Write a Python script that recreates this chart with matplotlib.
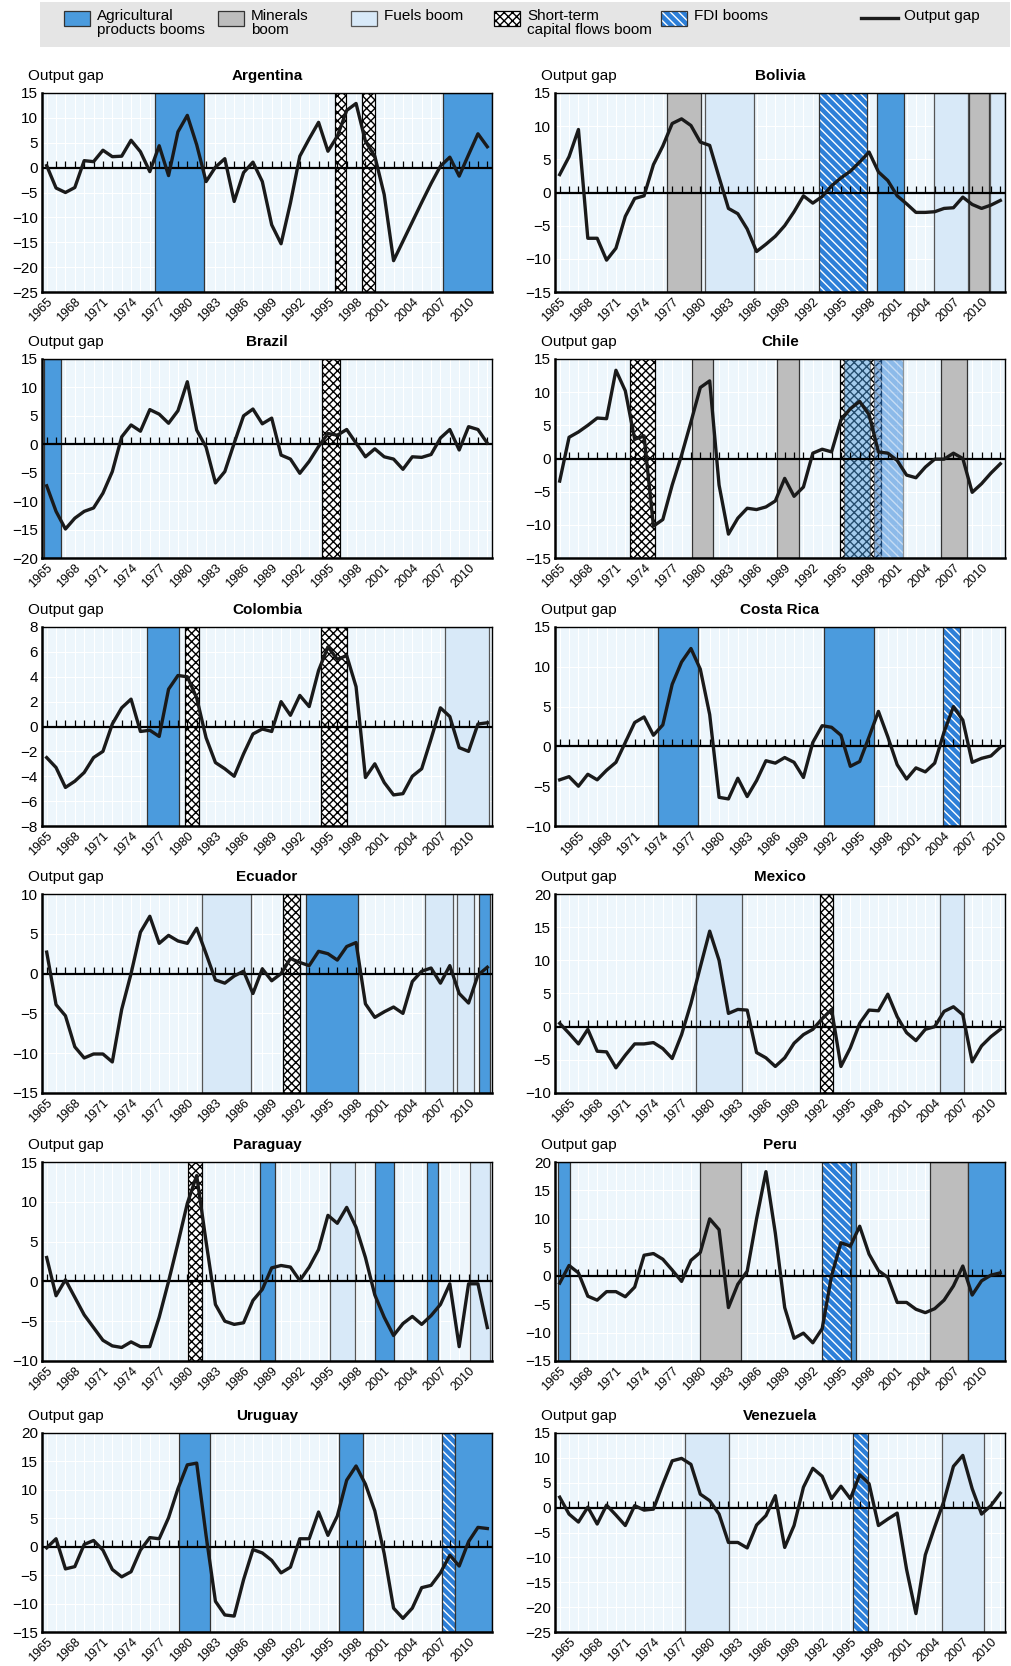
import matplotlib
matplotlib.use("Agg")
import matplotlib.pyplot as plt
import numpy as np
from matplotlib import font_manager
from matplotlib.patches import Rectangle

# fonte condensada, se estiver instalada
_names = {f.name for f in font_manager.fontManager.ttflist}
FONT = "Liberation Sans Narrow" if "Liberation Sans Narrow" in _names else "Liberation Sans"
plt.rcParams["font.family"] = [FONT, "DejaVu Sans"]
plt.rcParams["hatch.linewidth"] = 1.0

# ---------------- dados (hiato do produto, %) ----------------
countries = ["Argentina", "Bolivia", "Brazil", "Chile", "Colombia", "Costa Rica",
             "Ecuador", "Mexico", "Paraguay", "Peru", "Uruguay", "Venezuela"]

first_year = {"Costa Rica": 1963, "Mexico": 1964, "Venezuela": 1964}  # demais: 1965

argentina = [0.4, -4.1, -5.0, -4.0, 1.4, 1.2, 3.5, 2.2, 2.3, 5.5, 3.2, -0.8, 4.4, -1.6, 7.2, 10.5,
             4.6, -2.8, 0.1, 1.8, -6.8, -1.0, 1.1, -2.8, -11.5, -15.3, -7.1, 2.3, 5.8, 9.1, 3.3, 6.3,
             11.5, 12.9, 5.3, 2.3, -5.4, -18.7, -14.8, -10.9, -7.0, -3.2, 0.3, 2.1, -1.7, 2.6, 6.8, 4.2]
bolivia = [2.7, 5.4, 9.5, -6.9, -6.9, -10.2, -8.4, -3.6, -0.9, -0.5, 4.2, 7.0, 10.4, 11.1, 10.1, 7.6,
           7.1, 2.3, -2.4, -3.2, -5.5, -8.9, -7.8, -6.6, -5.0, -2.9, -0.5, -1.6, -0.6, 1.0, 2.2, 3.2,
           4.6, 6.1, 3.1, 1.8, -0.5, -1.7, -3.0, -3.0, -2.9, -2.4, -2.3, -0.7, -1.8, -2.4, -1.9, -1.2]
brazil = [-7.3, -11.8, -14.9, -13.0, -11.8, -11.2, -8.6, -4.8, 1.3, 3.4, 2.3, 6.1, 5.3, 3.7, 5.9, 11.0,
          2.5, -0.5, -6.8, -4.8, 0.2, 5.0, 6.2, 3.6, 4.6, -1.9, -2.6, -5.1, -3.0, -0.4, 1.9, 1.6,
          2.6, 0.2, -2.2, -0.8, -2.2, -2.6, -4.4, -2.2, -2.3, -1.8, 1.1, 2.6, -1.0, 3.1, 2.6, 0.2]
chile = [-3.4, 3.2, 4.0, 5.0, 6.1, 6.0, 13.3, 10.2, 2.9, 3.4, -10.2, -9.2, -4.0, 0.5, 5.5, 10.7,
         11.7, -4.0, -11.4, -9.0, -7.5, -7.7, -7.3, -6.4, -3.0, -5.7, -4.3, 0.8, 1.4, 1.0, 5.8, 7.5,
         8.6, 6.6, 1.0, 0.8, -0.3, -2.5, -2.9, -1.3, -0.1, -0.1, 0.8, 0.0, -5.1, -3.8, -2.2, -0.8]
colombia = [-2.5, -3.3, -4.9, -4.4, -3.7, -2.5, -2.0, 0.2, 1.5, 2.2, -0.4, -0.3, -0.8, 3.0, 4.1, 4.0,
            2.3, -0.9, -2.9, -3.4, -4.0, -2.2, -0.6, -0.2, -0.4, 2.0, 0.9, 2.5, 1.6, 4.5, 6.4, 5.4,
            5.7, 3.2, -4.1, -3.0, -4.5, -5.5, -5.4, -4.0, -3.4, -1.0, 1.5, 0.8, -1.7, -2.0, 0.2, 0.3]
costa_rica = [-4.2, -3.8, -5.0, -3.5, -4.2, -3.0, -2.0, 0.5, 3.0, 3.7, 1.4, 2.7, 7.8, 10.6, 12.3, 9.7,
              4.0, -6.4, -6.6, -4.0, -6.3, -4.3, -1.8, -2.1, -1.4, -2.0, -3.9, 0.5, 2.6, 2.4, 1.4, -2.5,
              -1.9, 1.2, 4.4, 1.2, -2.3, -4.1, -2.7, -3.2, -2.1, 1.8, 5.0, 3.3, -2.0, -1.5, -1.2, -0.1]
ecuador = [2.7, -3.9, -5.3, -9.2, -10.6, -10.1, -10.1, -11.1, -4.5, 0.0, 5.2, 7.2, 3.8, 4.8, 4.1, 3.8,
           5.7, 2.5, -0.8, -1.2, -0.3, 0.3, -2.5, 0.6, -0.9, 0.0, 1.9, 1.4, 1.0, 2.8, 2.5, 1.7,
           3.4, 3.9, -3.8, -5.5, -4.8, -4.2, -5.0, -1.0, 0.3, 0.7, -1.2, 1.0, -2.5, -3.7, -0.2, 0.8]
mexico = [0.5, -1.0, -2.6, -0.4, -3.7, -3.8, -6.2, -4.3, -2.6, -2.6, -2.4, -3.3, -4.8, -1.2, 3.5, 9.0,
          14.4, 10.0, 2.0, 2.6, 2.5, -3.9, -4.7, -6.0, -4.7, -2.5, -1.2, -0.4, 1.2, 2.6, -6.0, -3.2,
          0.5, 2.5, 2.4, 4.9, 1.5, -0.9, -2.1, -0.4, 0.0, 2.3, 3.0, 1.8, -5.3, -2.9, -1.5, -0.4]
paraguay = [3.0, -1.8, 0.2, -2.0, -4.2, -5.8, -7.4, -8.1, -8.3, -7.6, -8.2, -8.2, -4.5, 0.0, 4.8, 9.8,
            13.3, 5.0, -2.9, -5.0, -5.4, -5.2, -2.4, -1.0, 1.7, 2.0, 1.8, 0.1, 1.8, 4.0, 8.3, 7.3,
            9.3, 6.8, 3.0, -1.7, -4.5, -6.8, -5.3, -4.4, -5.4, -4.3, -2.9, -0.3, -8.2, -0.3, -0.3, -5.8]
peru = [-1.3, 1.8, 0.5, -3.6, -4.3, -2.8, -2.8, -3.7, -2.0, 3.6, 3.9, 2.9, 1.0, -1.0, 2.7, 4.1,
        10.0, 8.1, -5.6, -1.5, 0.8, 10.0, 18.3, 7.5, -5.6, -11.0, -10.1, -11.8, -9.3, 0.0, 5.8, 5.2,
        8.7, 3.8, 0.9, -0.3, -4.7, -4.7, -5.9, -6.5, -5.8, -4.3, -1.8, 1.7, -3.4, -0.9, 0.1, 0.5]
uruguay = [-0.2, 1.4, -3.9, -3.5, 0.4, 1.1, -0.6, -4.0, -5.3, -4.4, -0.6, 1.6, 1.4, 5.1, 10.2, 14.4,
           14.7, 2.0, -9.6, -12.0, -12.2, -5.8, -0.5, -1.1, -2.4, -4.6, -3.6, 1.4, 1.4, 6.1, 2.0, 5.4,
           11.7, 14.2, 11.0, 6.3, -1.2, -10.8, -12.6, -10.8, -7.2, -6.8, -4.6, -1.5, -3.4, 0.9, 3.4, 3.2]
venezuela = [2.1, -1.3, -2.9, 0.1, -3.3, 0.5, -1.5, -3.6, 0.4, -0.5, -0.3, 4.7, 9.4, 9.9, 8.7, 2.7,
             1.4, -1.3, -7.0, -7.0, -8.1, -3.5, -1.6, 2.4, -8.0, -3.6, 4.1, 7.9, 6.3, 1.8, 4.3, 1.8,
             6.6, 4.8, -3.6, -2.3, -1.1, -12.4, -21.3, -9.5, -3.9, 1.4, 8.3, 10.5, 3.8, -1.3, 0.4, 2.9]

values = {"Argentina": argentina, "Bolivia": bolivia, "Brazil": brazil, "Chile": chile,
          "Colombia": colombia, "Costa Rica": costa_rica, "Ecuador": ecuador, "Mexico": mexico,
          "Paraguay": paraguay, "Peru": peru, "Uruguay": uruguay, "Venezuela": venezuela}

# limites do eixo y: (min, max, passo)
y_range = {"Argentina": (-25, 15, 5), "Bolivia": (-15, 15, 5), "Brazil": (-20, 15, 5),
           "Chile": (-15, 15, 5), "Colombia": (-8, 8, 2), "Costa Rica": (-10, 15, 5),
           "Ecuador": (-15, 10, 5), "Mexico": (-10, 20, 5), "Paraguay": (-10, 15, 5),
           "Peru": (-15, 20, 5), "Uruguay": (-15, 20, 5), "Venezuela": (-25, 15, 5)}

# períodos de boom: (tipo, início, fim) em anos
booms = {
    "Argentina": [("agri", 1976.5, 1981.8), ("st", 1995.7, 1996.9), ("st", 1998.6, 2000.0),
                  ("agri", 2007.3, 2012.5)],
    "Bolivia": [("min", 1976.4, 1980.1), ("fuel", 1980.5, 1985.7), ("fdi", 1992.7, 1997.8),
                ("agri", 1998.8, 2001.7), ("fuel", 2004.9, 2008.6), ("min", 2008.7, 2010.8),
                ("fuel", 2010.9, 2012.5)],
    "Brazil": [("agri", 1964.7, 1966.5), ("st", 1994.4, 1996.3)],
    "Chile": [("st", 1972.5, 1975.2), ("min", 1979.1, 1981.3), ("min", 1988.2, 1990.5),
              ("st", 1994.9, 1999.3), ("agri*", 1995.3, 1998.1), ("fdi*", 1998.5, 2001.6),
              ("min", 2005.7, 2008.4)],
    "Colombia": [("agri", 1975.7, 1979.1), ("st", 1979.7, 1981.2), ("st", 1994.3, 1997.0),
                 ("fuel", 2007.5, 2012.2)],
    "Costa Rica": [("agri", 1973.5, 1977.7), ("agri", 1991.15, 1996.5), ("fdi", 2003.9, 2005.7)],
    "Ecuador": [("fuel", 1981.6, 1986.8), ("st", 1990.2, 1992.0), ("agri", 1992.65, 1998.25),
                ("fuel", 2005.3, 2008.3), ("fuel", 2008.8, 2010.6), ("agri", 2011.1, 2012.3)],
    "Mexico": [("fuel", 1978.5, 1983.4), ("st", 1991.8, 1993.2), ("fuel", 2004.6, 2007.1)],
    "Paraguay": [("st", 1980.1, 1981.55), ("agri", 1987.8, 1989.3), ("fuel", 1995.2, 1997.9),
                 ("agri", 1999.97, 2002.0), ("agri", 2005.6, 2006.7), ("fuel", 2010.2, 2012.3)],
    "Peru": [("agri", 1964.8, 1966.1), ("min", 1979.95, 1984.3), ("fdi", 1993.0, 1996.1),
             ("agri", 1996.1, 1996.6), ("min", 2004.5, 2008.5), ("agri", 2008.6, 2012.5)],
    "Uruguay": [("agri", 1979.1, 1982.4), ("agri", 1996.15, 1998.7), ("fdi", 2007.2, 2008.6),
                ("agri", 2008.6, 2012.5)],
    "Venezuela": [("fuel", 1977.4, 1982.1), ("fdi", 1995.3, 1996.9), ("fuel", 2004.8, 2009.3)],
}

legend_labels = ["Agricultural\nproducts booms", "Minerals\nboom", "Fuels boom",
                 "Short-term\ncapital flows boom", "FDI booms"]
legend_kinds = ["agri", "min", "fuel", "st", "fdi"]
tick_years = list(range(1965, 2011, 3))

# ---------------- estilo ----------------
BG = "#edf6fc"
STYLE = {
    "agri": dict(facecolor="#4b9bdd", edgecolor="#333333", linewidth=0.9),
    "min": dict(facecolor="#bdbdbd", edgecolor="#333333", linewidth=0.9),
    "fuel": dict(facecolor="#d8e9f8", edgecolor="#555555", linewidth=0.9),
    "st": dict(facecolor="white", edgecolor="black", hatch="xxxx", linewidth=0.9),
}
FDI_BLUE = "#2d7fd8"
FDI_HATCH = "\\\\\\\\"


def draw_boom(ax, kind, a, b):
    alpha = 1.0
    if kind.endswith("*"):      # sobreposição (Chile)
        kind = kind[:-1]
        alpha = 0.5
    if kind == "fdi":
        ax.axvspan(a, b, facecolor=FDI_BLUE, edgecolor="white", hatch=FDI_HATCH, lw=0,
                   alpha=alpha, zorder=1)
        ax.axvspan(a, b, fill=False, edgecolor="#333333", lw=0.9, alpha=alpha, zorder=1)
    else:
        ax.axvspan(a, b, alpha=alpha, zorder=1, **STYLE[kind])


W, H = 1012, 1666
fig = plt.figure(figsize=(W / 100, H / 100), dpi=100)

col_x = [42, 555]
row_top = [93, 359, 627, 894, 1162, 1433]
aw, ah = 450, 199

for k, name in enumerate(countries):
    r, c = divmod(k, 2)
    ax = fig.add_axes([col_x[c] / W, 1 - (row_top[r] + ah) / H, aw / W, ah / H])
    vals = np.array(values[name])
    y0 = first_year.get(name, 1965)
    years = np.arange(y0, y0 + len(vals))
    lo, hi, step = y_range[name]

    ax.set_facecolor(BG)
    ax.set_xlim(years[0] - 0.5, years[-1] + 0.5)
    ax.set_ylim(lo, hi)
    ax.set_yticks(np.arange(lo, hi + step, step))
    ax.set_xticks(tick_years)
    ax.set_xticklabels([str(t) for t in tick_years], rotation=45, ha="right",
                       rotation_mode="anchor", fontsize=9)
    ax.set_xticks(years, minor=True)
    ax.grid(True, which="both", axis="x", color="white", lw=0.8)
    ax.grid(True, which="major", axis="y", color="white", lw=0.8)
    ax.set_axisbelow(True)
    ax.tick_params(axis="x", which="both", length=0, pad=3)
    ax.tick_params(axis="y", length=0, pad=3, labelsize=11)

    for kind, a, b in booms[name]:
        draw_boom(ax, kind, a, b)

    # linha do zero com marcas anuais para cima
    ax.axhline(0, color="black", lw=1.6, zorder=3)
    ax.plot(years, np.zeros(len(years)), ls="none", marker=2, ms=5, mew=0.9,
            color="black", zorder=3)
    ax.plot(years, vals, color="#1a1a1a", lw=2.4, zorder=4)

    for side, sp in ax.spines.items():
        sp.set_color("black")
        sp.set_linewidth(1.8 if side in ("left", "bottom") else 1.0)
        sp.set_zorder(5)

    ax.text(0.5, 1 + 17 / ah, name, transform=ax.transAxes, ha="center", va="center",
            fontsize=11, fontweight="bold")
    ax.text(-14 / aw, 1 + 17 / ah, "Output gap", transform=ax.transAxes, ha="left",
            va="center", fontsize=11)

# ---------------- legenda ----------------
lax = fig.add_axes([40 / W, 1 - 47 / H, 970 / W, 45 / H])
lax.set_xlim(40, 1010)
lax.set_ylim(47, 2)
lax.set_facecolor("#e5e5e5")
for sp in lax.spines.values():
    sp.set_visible(False)
lax.set_xticks([])
lax.set_yticks([])

leg_x = [64, 218, 351, 494, 661]
for x, kind, lab in zip(leg_x, legend_kinds, legend_labels):
    if kind == "fdi":
        lax.add_patch(Rectangle((x, 11), 26, 15, facecolor=FDI_BLUE, edgecolor="white",
                                hatch=FDI_HATCH, lw=0))
        lax.add_patch(Rectangle((x, 11), 26, 15, fill=False, edgecolor="#333333", lw=0.9))
    else:
        lax.add_patch(Rectangle((x, 11), 26, 15, **STYLE[kind]))
    lax.text(x + 33, 9, lab, ha="left", va="top", fontsize=11, linespacing=1.0)
lax.plot([861, 898], [18, 18], color="#1a1a1a", lw=2.4)
lax.text(904, 9, "Output gap", ha="left", va="top", fontsize=11)

fig.savefig("out.png", dpi=100)
